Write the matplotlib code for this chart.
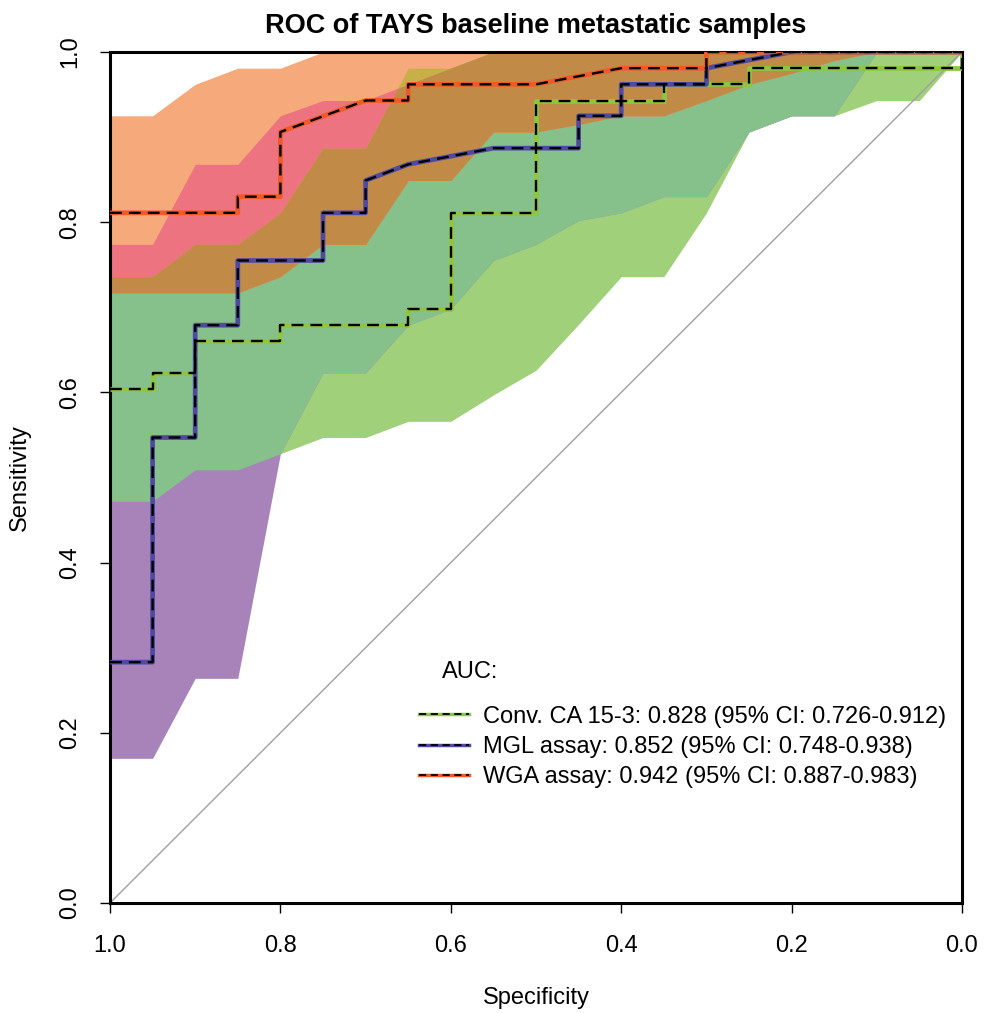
"""ROC curves with bootstrap CI bands for three CA 15-3 assays."""

import numpy as np
import matplotlib
matplotlib.use("Agg")
import matplotlib.pyplot as plt
from matplotlib.lines import Line2D
from matplotlib.ticker import FormatStrFormatter

plt.rcParams["font.family"] = ["Liberation Sans", "DejaVu Sans"]

# specificities where the sensitivity CI was evaluated
ci_spec = [1.0, 0.95, 0.90, 0.85, 0.80, 0.75, 0.70, 0.65, 0.60, 0.55, 0.50,
           0.45, 0.40, 0.35, 0.30, 0.25, 0.20, 0.15, 0.10, 0.05, 0.0]

# Conv. CA 15-3
ca_lo = [0.472, 0.472, 0.509, 0.509, 0.528, 0.547, 0.547, 0.566, 0.566, 0.597, 0.626,
         0.680, 0.736, 0.736, 0.811, 0.906, 0.925, 0.925, 0.943, 0.943, 1.0]
ca_hi = [0.736, 0.736, 0.774, 0.774, 0.811, 0.887, 0.887, 0.981, 0.981, 1.0, 1.0,
         1.0, 1.0, 1.0, 1.0, 1.0, 1.0, 1.0, 1.0, 1.0, 1.0]
# MGL assay
mgl_lo = [0.170, 0.170, 0.264, 0.264, 0.528, 0.623, 0.623, 0.679, 0.698, 0.755, 0.774,
          0.802, 0.811, 0.830, 0.830, 0.906, 0.925, 0.925, 1.0, 1.0, 1.0]
mgl_hi = [0.774, 0.774, 0.868, 0.868, 0.925, 0.943, 0.943, 0.962, 0.981, 1.0, 1.0,
          1.0, 1.0, 1.0, 1.0, 1.0, 1.0, 1.0, 1.0, 1.0, 1.0]
# WGA assay
wga_lo = [0.717, 0.717, 0.717, 0.717, 0.736, 0.774, 0.774, 0.849, 0.849, 0.906, 0.906,
          0.915, 0.925, 0.925, 0.943, 0.962, 0.975, 0.990, 1.0, 1.0, 1.0]
wga_hi = [0.925, 0.925, 0.962, 0.981, 0.981, 1.0, 1.0, 1.0, 1.0, 1.0, 1.0,
          1.0, 1.0, 1.0, 1.0, 1.0, 1.0, 1.0, 1.0, 1.0, 1.0]

# empirical ROC curves (specificity, sensitivity)
ca_spec = [1.0, 0.95, 0.95, 0.90, 0.90, 0.80, 0.80, 0.65, 0.65, 0.60, 0.60, 0.50, 0.50,
           0.35, 0.35, 0.25, 0.25, 0.0, 0.0]
ca_sens = [0.604, 0.604, 0.623, 0.623, 0.660, 0.660, 0.679, 0.679, 0.698, 0.698, 0.811,
           0.811, 0.943, 0.943, 0.962, 0.962, 0.981, 0.981, 1.0]
mgl_spec = [1.0, 0.95, 0.95, 0.90, 0.90, 0.85, 0.85, 0.75, 0.75, 0.70, 0.70, 0.65, 0.55,
            0.45, 0.45, 0.40, 0.40, 0.30, 0.30, 0.20, 0.0]
mgl_sens = [0.283, 0.283, 0.547, 0.547, 0.679, 0.679, 0.755, 0.755, 0.811, 0.811, 0.849,
            0.868, 0.887, 0.887, 0.925, 0.925, 0.962, 0.962, 0.981, 1.0, 1.0]
wga_spec = [1.0, 0.85, 0.85, 0.80, 0.80, 0.70, 0.65, 0.65, 0.50, 0.40, 0.30, 0.30, 0.0]
wga_sens = [0.811, 0.811, 0.830, 0.830, 0.906, 0.943, 0.943, 0.962, 0.962, 0.981, 0.981,
            1.0, 1.0]

labels = ["Conv. CA 15-3: 0.828 (95% CI: 0.726-0.912)",
          "MGL assay: 0.852 (95% CI: 0.748-0.938)",
          "WGA assay: 0.942 (95% CI: 0.887-0.983)"]
line_colors = ["#8DC63F", "#4F4AA0", "#F05A28"]

# fill colour for every overlap of the three bands (CA, MGL, WGA)
band_colors = {
    (1, 0, 0): "#A1D07B",
    (0, 1, 0): "#A783BA",
    (0, 0, 1): "#F6A97B",
    (1, 1, 0): "#86C08A",
    (0, 1, 1): "#EE7381",
    (1, 0, 1): "#C9AF4A",
    (1, 1, 1): "#C28A47",
}


def draw_bands(ax):
    xs = np.linspace(0, 1, 4001)
    sp = np.array(ci_spec)[::-1]
    bands = [(ca_lo, ca_hi), (mgl_lo, mgl_hi), (wga_lo, wga_hi)]
    lo = [np.interp(xs, sp, np.array(a)[::-1]) for a, _ in bands]
    hi = [np.interp(xs, sp, np.array(b)[::-1]) for _, b in bands]
    # singles first, then pairs, then the triple overlap on top
    combos = sorted(band_colors, key=sum)
    for combo in combos:
        idx = [i for i in range(3) if combo[i]]
        l = np.max([lo[i] for i in idx], axis=0)
        h = np.min([hi[i] for i in idx], axis=0)
        ax.fill_between(xs, l, h, where=h > l, interpolate=True,
                        color=band_colors[combo], linewidth=0, zorder=1)


fig = plt.figure(figsize=(9.91, 10.13), dpi=100)
ax = fig.add_axes([110 / 991, 1 - 903 / 1013, 852 / 991, 851 / 1013])

draw_bands(ax)
ax.plot([1, 0], [0, 1], color="#A0A0A0", lw=1.0, zorder=2)

curves = [(ca_spec, ca_sens), (mgl_spec, mgl_sens), (wga_spec, wga_sens)]
for (s, v), c in zip(curves, line_colors):
    ax.plot(s, v, color=c, lw=3.4, solid_capstyle="butt", zorder=3)
    ax.plot(s, v, color="black", lw=1.7, dashes=(5, 3), zorder=4)

ax.set_xlim(1, 0)
ax.set_ylim(0, 1)
ax.set_xticks([1.0, 0.8, 0.6, 0.4, 0.2, 0.0])
ax.set_yticks([0.0, 0.2, 0.4, 0.6, 0.8, 1.0])
ax.xaxis.set_major_formatter(FormatStrFormatter("%.1f"))
ax.yaxis.set_major_formatter(FormatStrFormatter("%.1f"))
ax.tick_params(direction="out", length=7, width=1.0, labelsize=17, pad=14)
ax.tick_params(axis="x", pad=16)
for t in ax.get_yticklabels():
    t.set_rotation(90)
    t.set_va("center")
for sp_ in ax.spines.values():
    sp_.set_linewidth(2.2)

ax.set_title("ROC of TAYS baseline metastatic samples", fontsize=19.5,
             fontweight="bold", pad=14)
ax.set_xlabel("Specificity", fontsize=17)
ax.set_ylabel("Sensitivity", fontsize=17)
ax.xaxis.label.set_va("center")
ax.yaxis.label.set_va("center")
ax.xaxis.set_label_coords(0.5, (903 - 998) / 851)
ax.yaxis.set_label_coords((20 - 110) / 852, 0.5)

ax.text(0.39, 0.271, "AUC:", fontsize=17, va="center", ha="left",
        transform=ax.transAxes)
handles = [(Line2D([], [], color=c, lw=2.5),
            Line2D([], [], color="black", lw=1.3, dashes=(4, 2.5)))
           for c in line_colors]
ax.legend(handles, labels, loc="upper left", bbox_to_anchor=(0.352, 0.243),
          frameon=False, fontsize=17, handlelength=2.1, handletextpad=0.6,
          labelspacing=0.35, borderaxespad=0)

fig.savefig("out.png", dpi=100)
